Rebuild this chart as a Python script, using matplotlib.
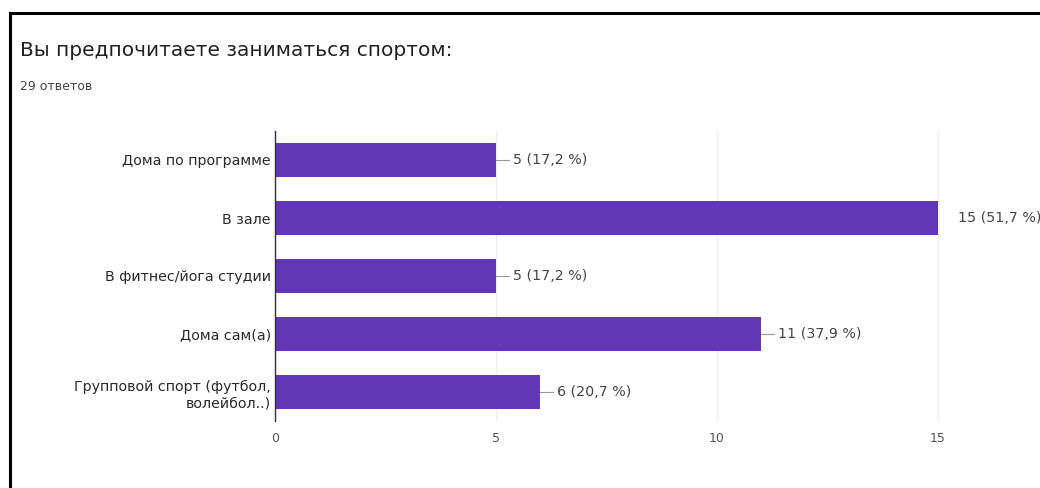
import matplotlib
matplotlib.use("Agg")
import matplotlib.pyplot as plt
from matplotlib.patches import Rectangle

# ответы на вопрос о месте занятий спортом
categories = [
    "Дома по программе",
    "В зале",
    "В фитнес/йога студии",
    "Дома сам(а)",
    "Групповой спорт (футбол,\nволейбол..)",
]
counts = [5, 15, 5, 11, 6]
percents = ["17,2", "51,7", "17,2", "37,9", "20,7"]
xticks = [0, 5, 10, 15]
total = 29

plt.rcParams['font.family'] = ['DejaVu Sans']

fig = plt.figure(figsize=(10.4, 4.88), dpi=100)
fig.patch.set_facecolor("white")

# рамка карточки
fig.patches.append(Rectangle((10 / 1040, -0.1), 1.2, 1 - 13 / 488 + 0.1,
                             transform=fig.transFigure, fill=False,
                             edgecolor="black", linewidth=2.2))

fig.text(20 / 1040, 1 - 50 / 488, "Вы предпочитаете заниматься спортом:",
         fontsize=14.5, color="#202124", va="center", ha="left")
fig.text(20 / 1040, 1 - 87 / 488, f"{total} ответов",
         fontsize=9, color="#444444", va="center", ha="left")

ax = fig.add_axes([275 / 1040, 1 - 421 / 488, (982 - 275) / 1040, (421 - 131) / 488])
y = list(range(len(categories)))
ax.barh(y, counts, height=0.6, color="#6236b7", zorder=3)
ax.set_ylim(len(categories) - 0.5, -0.5)
ax.set_xlim(0, 16)

ax.set_xticks(xticks)
ax.set_xticklabels([str(t) for t in xticks], fontsize=9, color="#555555")
ax.set_yticks(y)
ax.set_yticklabels(categories, fontsize=10.3, color="#2a2a2a", linespacing=1.25)
ax.tick_params(axis="both", length=0, pad=3)
ax.tick_params(axis="x", pad=8)

ax.grid(axis="x", color="#eeeeee", linewidth=1, zorder=0)
for s in ["top", "right", "bottom"]:
    ax.spines[s].set_visible(False)
ax.spines["left"].set_color("#333333")
ax.spines["left"].set_linewidth(1)
ax.spines["left"].set_zorder(4)

for yi, c, p in zip(y, counts, percents):
    label = f"{c} ({p} %)"
    if c == max(counts):
        ax.annotate(label, (c, yi), xytext=(14.5, 0), textcoords="offset points",
                    va="center", ha="left", fontsize=10.3, color="#444444",
                    annotation_clip=False)
    else:
        ax.plot([c, c + 0.3], [yi, yi], color="#999999", linewidth=0.8,
                clip_on=False, zorder=2)
        ax.annotate(label, (c, yi), xytext=(12.5, 0), textcoords="offset points",
                    va="center", ha="left", fontsize=10.3, color="#444444",
                    annotation_clip=False)

fig.savefig("out.png", dpi=100, facecolor="white")
